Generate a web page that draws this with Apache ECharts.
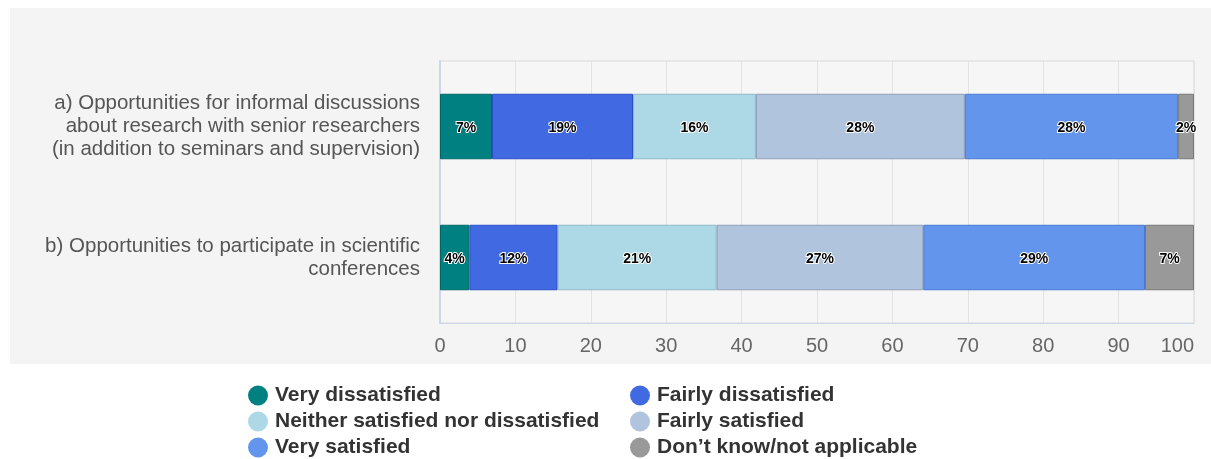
<!DOCTYPE html>
<html>
<head>
<meta charset="utf-8">
<script src="https://cdn.jsdelivr.net/npm/echarts@6/dist/echarts.min.js"></script>
<style>
html,body{margin:0;padding:0;background:#ffffff;}
#chart{width:1211px;height:459px;}
</style>
</head>
<body>
<div id="chart"></div>
<script>
const categories = [
  "a) Opportunities for informal discussions\nabout research with senior researchers\n(in addition to seminars and supervision)",
  "b) Opportunities to participate in scientific\nconferences"
];
const seriesNames = [
  "Very dissatisfied",
  "Fairly dissatisfied",
  "Neither satisfied nor dissatisfied",
  "Fairly satisfied",
  "Very satisfied",
  "Don\u2019t know/not applicable"
];
const veryDissatisfied = [6.9, 3.9];
const fairlyDissatisfied = [18.7, 11.7];
const neither = [16.3, 21.1];
const fairlySatisfied = [27.7, 27.4];
const verySatisfied = [28.3, 29.4];
const dontKnow = [2.1, 6.5];
const xTicks = [0, 10, 20, 30, 40, 50, 60, 70, 80, 90, 100];

const values = [veryDissatisfied, fairlyDissatisfied, neither, fairlySatisfied, verySatisfied, dontKnow];
const colors = ["#008080", "#4169E1", "#ADD8E6", "#B0C4DE", "#6495ED", "#999999"];
const borders = ["#006666", "#2a4fc4", "#8fb8c8", "#8e9fb8", "#4a78d0", "#777777"];

const chart = echarts.init(document.getElementById('chart'), null, {renderer: 'canvas'});

const series = values.map((v, i) => ({
  name: seriesNames[i],
  type: 'bar',
  stack: 'total',
  barWidth: '50%',
  data: v,
  itemStyle: {color: colors[i], borderColor: borders[i], borderWidth: 1},
  label: {
    show: true,
    position: 'inside',
    offset: [0, 2],
    formatter: p => Math.round(p.value) + '%',
    fontFamily: 'Liberation Sans, Arial, sans-serif',
    fontSize: 14,
    fontWeight: 'bold',
    color: '#000000',
    textBorderColor: '#ffffff',
    textBorderWidth: 2
  },
  emphasis: {disabled: true}
}));

const legendCommon = {
  orient: 'vertical',
  icon: 'circle',
  padding: 0,
  itemWidth: 20,
  itemHeight: 20,
  itemGap: 5,
  itemStyle: {borderWidth: 0},
  textStyle: {
    fontFamily: 'Liberation Sans, Arial, sans-serif',
    fontSize: 21,
    fontWeight: 'bold',
    color: '#333333',
    lineHeight: 20,
    padding: [0, 0, 0, 2]
  },
  selectedMode: false
};

chart.setOption({
  animation: false,
  backgroundColor: '#ffffff',
  graphic: [{
    type: 'rect',
    z: -10,
    shape: {x: 10, y: 8, width: 1201, height: 356},
    style: {fill: '#f4f4f4'}
  }],
  grid: {
    left: 440, right: 17, top: 61, bottom: 136,
    show: true,
    backgroundColor: '#f6f6f6',
    borderColor: '#d8d8d8',
    borderWidth: 1
  },
  legend: [
    Object.assign({}, legendCommon, {left: 248, top: 385, data: [seriesNames[0], seriesNames[2], seriesNames[4]]}),
    Object.assign({}, legendCommon, {left: 630, top: 385, data: [seriesNames[1], seriesNames[3], seriesNames[5]]})
  ],
  xAxis: {
    type: 'value',
    min: xTicks[0],
    max: xTicks[xTicks.length - 1],
    interval: 10,
    axisLine: {show: true, lineStyle: {color: '#ccd6eb'}},
    axisTick: {show: false},
    splitLine: {show: true, lineStyle: {color: '#e2e2e2'}},
    axisLabel: {
      fontFamily: 'Liberation Sans, Arial, sans-serif',
      fontSize: 20,
      color: '#666666',
      margin: 13,
      alignMaxLabel: 'right'
    }
  },
  yAxis: {
    type: 'category',
    inverse: true,
    data: categories,
    axisLine: {show: true, lineStyle: {color: '#ccd6eb', width: 2}},
    axisTick: {show: false},
    axisLabel: {
      fontFamily: 'Liberation Sans, Arial, sans-serif',
      fontSize: 20.5,
      color: '#555555',
      lineHeight: 23,
      align: 'right',
      margin: 20
    }
  },
  series: series
});
</script>
</body>
</html>
